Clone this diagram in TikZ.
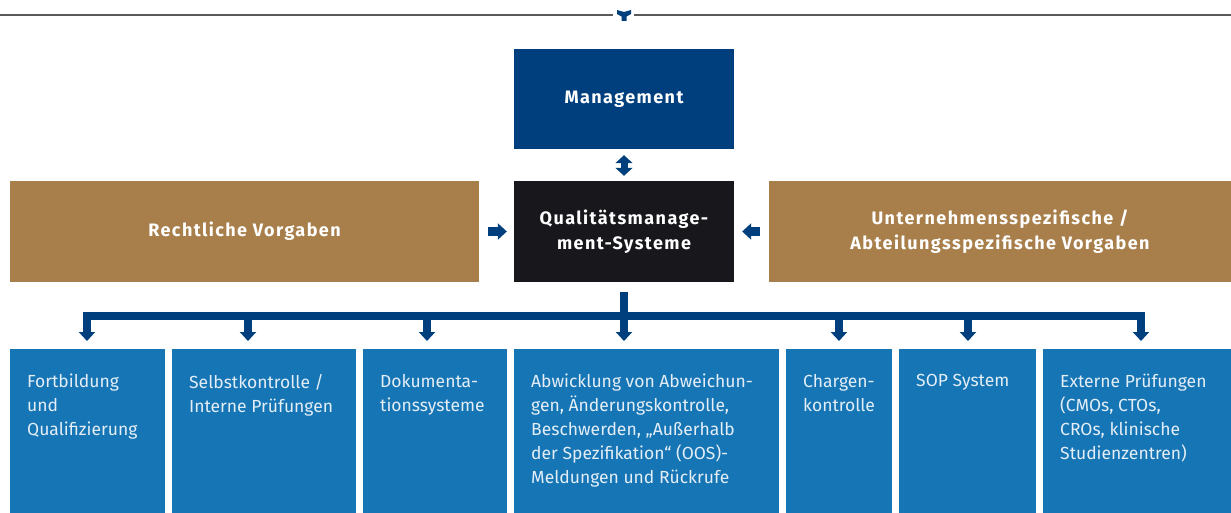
\documentclass[tikz,border=0pt]{standalone}
\usepackage{fontspec}
\setmainfont{Fira Sans}
\newfontfamily\headfont{Fira Sans}[LetterSpace=8]
\usetikzlibrary{arrows.meta}

\definecolor{mgmtblue}{RGB}{0,63,126}
\definecolor{qmsblack}{RGB}{24,23,28}
\definecolor{vorgabe}{RGB}{168,127,75}
\definecolor{taskblue}{RGB}{22,117,181}
\definecolor{tasklight}{RGB}{228,238,247}
\definecolor{rulegray}{RGB}{90,90,90}

\begin{document}
\begin{tikzpicture}[
    x=1pt, y=-1pt,
    head/.style={fill=#1, text=white, align=center, inner sep=0pt,
      minimum height=101pt, font=\headfont\bfseries\fontsize{18}{25}\selectfont},
    task/.style={fill=taskblue, anchor=north west, inner sep=0pt, minimum height=164pt},
    tasktext/.style={anchor=north west, inner sep=0pt, text=tasklight, align=left,
      font=\fontsize{17.5}{24}\selectfont},
    flow/.style={draw=mgmtblue, line width=8pt, -{Triangle[width=16pt,length=9pt]}},
  ]
  \useasboundingbox (0,0) rectangle (1231,513);

  % top rule with ornament
  \draw[rulegray, line width=1.4pt] (0,15) -- (613,15) (634,15) -- (1231,15);
  \fill[mgmtblue] (617,10) -- (624,12) -- (631,10) -- (631,14) -- (626.5,16.5)
    -- (626.5,21) -- (621.5,21) -- (621.5,16.5) -- (617,14) -- cycle;

  % upper row
  \node[head=mgmtblue, minimum width=220pt, minimum height=100pt] (mgmt) at (624,99) {Management};
  \node[head=qmsblack, minimum width=220pt] (qms) at (624,231.5) {Qualitätsmanage-\\ment-Systeme};
  \node[head=vorgabe, minimum width=469pt] (legal) at (244.5,231.5) {Rechtliche Vorgaben};
  \node[head=vorgabe, minimum width=462pt] (company) at (1000,231.5)
    {Unternehmensspezifische /\\Abteilungsspezifische Vorgaben};

  \draw[flow, line width=7pt, {Triangle[width=17pt,length=8pt]}-{Triangle[width=17pt,length=8pt]}]
    ([yshift=-6pt]mgmt.south) -- ([yshift=5pt]qms.north);
  \draw[flow, line width=9pt] ([xshift=9pt]legal.east) -- ([xshift=-7pt]qms.west);
  \draw[flow, line width=9pt] ([xshift=-9pt]company.west) -- ([xshift=8pt]qms.east);

  % lower row
  \foreach \n/\x/\w/\t in {
      fortb/10/155/{Fortbildung\\und\\Qualifizierung},
      selbst/172/184/{Selbstkontrolle /\\Interne Prüfungen},
      doku/363/144/{Dokumenta-\\tionssysteme},
      abw/514/265/{Abwicklung von Abweichun-\\gen, Änderungskontrolle,\\Beschwerden, „Außerhalb\\der Spezifikation“ (OOS)-\\Meldungen und Rückrufe},
      charg/786/106/{Chargen-\\kontrolle},
      sop/899/137/{SOP System},
      ext/1043/188/{Externe Prüfungen\\(CMOs, CTOs,\\CROs, klinische\\Studienzentren)}}{
    \node[task, minimum width=\w pt] (\n) at (\x,349) {};
    \node[tasktext] (\n-t) at ([xshift=17pt,yshift=-25pt]\n.north west) {\t};
  }

  % distribution bus
  \coordinate (busl) at (87,316);
  \coordinate (busr) at (1141,316);
  \draw[mgmtblue, line width=8pt] (busl) -- (busr);
  \draw[flow, shorten >=8pt] ([yshift=-10pt]qms.south) -- (qms.south |- abw.north);
  \foreach \x/\n in {87/fortb,248/selbst,427/doku,839/charg,968/sop,1141/ext}
    \draw[flow, shorten >=8pt] (\x,312) -- (\x,312 |- \n.north);
\end{tikzpicture}
\end{document}
